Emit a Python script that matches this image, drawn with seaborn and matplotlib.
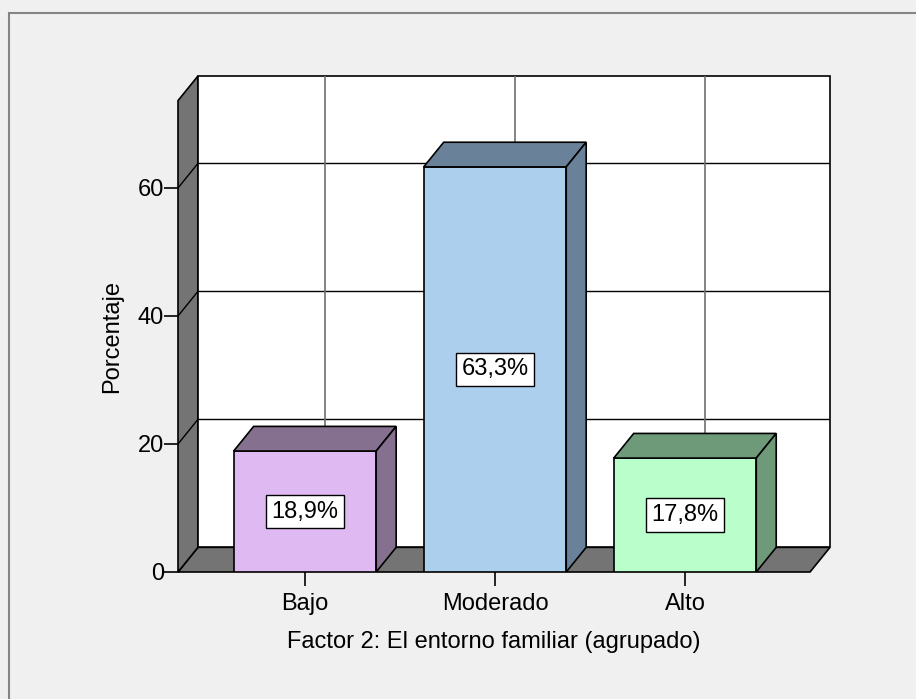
import matplotlib
matplotlib.use("Agg")
import matplotlib.pyplot as plt
from matplotlib.patches import Polygon, Rectangle
import seaborn as sns

# data
categories = ["Bajo", "Moderado", "Alto"]
percentages = [18.9, 63.3, 17.8]
value_labels = ["18,9%", "63,3%", "17,8%"]
y_ticks = [0, 20, 40, 60]

front_colors = ["#DFB9F2", "#ADCFEE", "#B9FECB"]
side_colors = ["#86708F", "#6A8299", "#6E9A79"]
wall_gray = "#747474"

sns.set_style("white")
plt.rcParams["font.family"] = ["Liberation Sans", "DejaVu Sans"]
plt.rcParams["font.size"] = 17
plt.rcParams["text.color"] = "black"
plt.rcParams["axes.labelcolor"] = "black"
plt.rcParams["xtick.color"] = "black"
plt.rcParams["ytick.color"] = "black"

W, H = 916, 699
fig = plt.figure(figsize=(W / 100, H / 100), dpi=100, facecolor="#F0F0F0")

# outer frame like the SPSS viewer
fig.patches.append(Rectangle((9 / W, -0.1), 1.2, 1.1 - 13 / H,
                             transform=fig.transFigure, fill=False,
                             edgecolor="#858585", linewidth=1.5))

ax = fig.add_axes([178 / W, 1 - 572 / H, (830 - 178) / W, (572 - 76) / H])
ax.set_facecolor("none")

XMIN, XMAX = -0.668, 2.763
YMAX = 77.5
DX, DY = 0.105, 3.85   # depth offset of the 3d effect, in data units

# floor, left wall and back wall
ax.add_patch(Polygon([(XMIN, 0), (XMAX - DX, 0), (XMAX, DY), (XMIN + DX, DY)],
                     closed=True, facecolor=wall_gray, edgecolor="black",
                     linewidth=1.2, zorder=1, clip_on=False))
ax.add_patch(Polygon([(XMIN, 0), (XMIN + DX, DY), (XMIN + DX, YMAX), (XMIN, YMAX - DY)],
                     closed=True, facecolor=wall_gray, edgecolor="black",
                     linewidth=1.2, zorder=1, clip_on=False))
ax.add_patch(Rectangle((XMIN + DX, DY), XMAX - XMIN - DX, YMAX - DY,
                       facecolor="white", edgecolor="black", linewidth=1.2,
                       zorder=1, clip_on=False))

# grid on the back wall and its trace on the left wall
for v in y_ticks[1:]:
    ax.plot([XMIN + DX, XMAX], [v + DY, v + DY], color="black", lw=1, zorder=1.5)
    ax.plot([XMIN, XMIN + DX], [v, v + DY], color="black", lw=1, zorder=1.5)
for i in range(len(categories)):
    ax.plot([i + DX, i + DX], [DY, YMAX], color="#6E6E6E", lw=1.2, zorder=1.5)

# front faces of the bars
sns.barplot(x=categories, y=percentages, hue=categories, palette=front_colors,
            legend=False, width=0.75, saturation=1, edgecolor="black",
            linewidth=1.2, ax=ax, zorder=3)
ax.set_xlim(XMIN, XMAX)
ax.set_ylim(0, YMAX)

for bar, side, lab in zip(ax.patches[3:], side_colors, value_labels):
    x0 = bar.get_x()
    x1 = x0 + bar.get_width()
    h = bar.get_height()
    ax.add_patch(Polygon([(x0, h), (x1, h), (x1 + DX, h + DY), (x0 + DX, h + DY)],
                         closed=True, facecolor=side, edgecolor="black",
                         linewidth=1.2, zorder=3))
    ax.add_patch(Polygon([(x1, 0), (x1 + DX, DY), (x1 + DX, h + DY), (x1, h)],
                         closed=True, facecolor=side, edgecolor="black",
                         linewidth=1.2, zorder=3))
    ax.text((x0 + x1) / 2, h / 2, lab, ha="center", va="center", fontsize=17,
            zorder=5, bbox=dict(boxstyle="square,pad=0.25", facecolor="white",
                                edgecolor="black", linewidth=1))

for s in ax.spines.values():
    s.set_visible(False)
ax.set_yticks(y_ticks)
ax.tick_params(axis="both", direction="out", length=10, width=1.2,
               color="black", labelsize=17, left=True, bottom=True)
ax.tick_params(axis="x", pad=5)
ax.tick_params(axis="y", pad=0)
ax.set_ylabel("Porcentaje", fontsize=17)
ax.yaxis.set_label_coords(-0.084, 0.474)
ax.set_xlabel("Factor 2: El entorno familiar (agrupado)", fontsize=17)
ax.xaxis.set_label_coords(0.485, -0.118)

fig.savefig("out.png", dpi=100, facecolor=fig.get_facecolor())
